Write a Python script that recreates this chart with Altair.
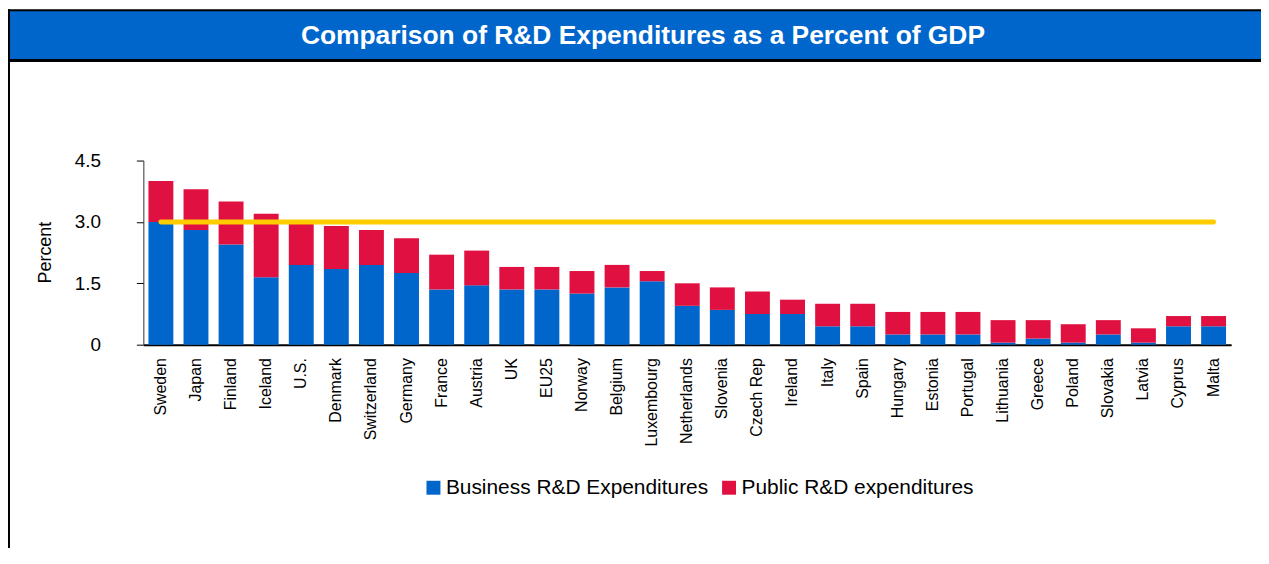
import altair as alt
import pandas as pd

countries = ["Sweden", "Japan", "Finland", "Iceland", "U.S.", "Denmark", "Switzerland",
             "Germany", "France", "Austria", "UK", "EU25", "Norway", "Belgium", "Luxembourg",
             "Netherlands", "Slovenia", "Czech Rep", "Ireland", "Italy", "Spain", "Hungary",
             "Estonia", "Portugal", "Lithuania", "Greece", "Poland", "Slovakia", "Latvia",
             "Cyprus", "Malta"]
business = [3.0, 2.8, 2.45, 1.65, 1.95, 1.85, 1.95, 1.75, 1.35, 1.45, 1.35, 1.35, 1.25, 1.4,
            1.55, 0.95, 0.85, 0.75, 0.75, 0.45, 0.45, 0.25, 0.25, 0.25, 0.05, 0.15, 0.05,
            0.25, 0.05, 0.45, 0.45]
public = [1.0, 1.0, 1.05, 1.55, 1.0, 1.05, 0.85, 0.85, 0.85, 0.85, 0.55, 0.55, 0.55, 0.55,
          0.25, 0.55, 0.55, 0.55, 0.35, 0.55, 0.55, 0.55, 0.55, 0.55, 0.55, 0.45, 0.45,
          0.35, 0.35, 0.25, 0.25]
series_names = ["Business R&D Expenditures", "Public R&D expenditures"]
target = 3.0
title_text = "Comparison of R&D Expenditures as a Percent of GDP"

BLUE = "#0066CC"
RED = "#E01141"
YELLOW = "#FFCC00"
FONT = "Liberation Sans"

rows = []
for c, b, p in zip(countries, business, public):
    rows.append({"country": c, "series": series_names[0], "value": b, "ord": 0})
    rows.append({"country": c, "series": series_names[1], "value": p, "ord": 1})
df = pd.DataFrame(rows)
line_df = pd.DataFrame({"country": countries, "target": [target] * len(countries)})

W, H = 1093, 185

xenc = alt.X("country:N", sort=countries,
             scale=alt.Scale(paddingInner=0.29, paddingOuter=0.145),
             axis=alt.Axis(title=None, labelAngle=-90, labelFontSize=16, labelPadding=13,
                           ticks=False, domainColor="black", domainWidth=2,
                           labelColor="black", labelFont=FONT))

bars = alt.Chart(df).mark_bar().encode(
    x=xenc,
    y=alt.Y("value:Q", stack="zero",
            scale=alt.Scale(domain=[0, 4.5], nice=False),
            axis=alt.Axis(values=[0, 1.5, 3.0, 4.5],
                          labelExpr="datum.value == 0 ? '0' : format(datum.value, '.1f')",
                          tickSize=7, tickColor="black", labelPadding=36, labelFontSize=19,
                          labelColor="black", labelFont=FONT, domainColor="#333333",
                          domainWidth=1, grid=False, title="Percent", titleFontSize=18,
                          titleFontWeight="normal", titleColor="black", titleFont=FONT,
                          titleX=-98, titleY=92, titleBaseline="middle", titleAlign="center",
                          titleAngle=270)),
    color=alt.Color("series:N",
                    scale=alt.Scale(domain=series_names, range=[BLUE, RED]),
                    legend=alt.Legend(title=None, orient="none", direction="horizontal",
                                      legendX=281, legendY=318, symbolType="square",
                                      symbolSize=196, symbolStrokeWidth=0, labelFontSize=21,
                                      labelFont=FONT, labelColor="black", labelOffset=2,
                                      labelLimit=500, columnPadding=10)),
    order=alt.Order("ord:Q"),
)

goal = alt.Chart(line_df).mark_line(color=YELLOW, strokeWidth=5, strokeCap="round").encode(
    x=alt.X("country:N", sort=countries),
    y=alt.Y("target:Q"),
)

one = alt.Data(values=[{}])
header = alt.Chart(one).mark_rect(color=BLUE).encode(
    x=alt.value(-134), x2=alt.value(1125), y=alt.value(-151), y2=alt.value(-102))
header_bottom = alt.Chart(one).mark_rule(color="black", strokeWidth=3).encode(
    x=alt.value(-136), x2=alt.value(1125), y=alt.value(-100.5))
top_border = alt.Chart(one).mark_rule(color="black", strokeWidth=2).encode(
    x=alt.value(-136), x2=alt.value(1125), y=alt.value(-151))
left_border = alt.Chart(one).mark_rule(color="black", strokeWidth=2).encode(
    x=alt.value(-135), y=alt.value(-152), y2=alt.value(400))
title = alt.Chart(one).mark_text(text=title_text, font=FONT, fontSize=26.5, fontWeight="bold",
                                 color="white", align="center", baseline="middle").encode(
    x=alt.value(502), y=alt.value(-125))

chart = alt.layer(header, header_bottom, top_border, left_border, bars, goal, title).properties(
    width=W, height=H,
    autosize=alt.AutoSizeParams(type="none"),
    padding={"left": 136, "top": 152, "right": 30, "bottom": 203},
).configure(font=FONT).configure_view(strokeWidth=0, stroke="transparent")

chart.save("out.html", embed_options={"renderer": "svg", "actions": False})
